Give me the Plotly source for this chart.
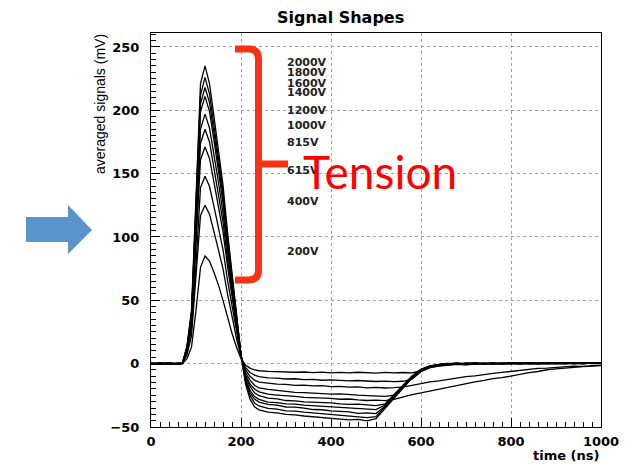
import plotly.graph_objects as go

# ---------------- data ----------------
time_ns = [0, 20, 40, 60, 70, 80, 90, 100, 110, 120, 130, 140, 150, 160, 170, 180, 190, 200, 210, 220, 230, 240,
           260, 280, 300, 320, 340, 360, 380, 400, 420, 440, 460, 480, 500, 520, 540, 560, 580, 600, 620, 640,
           660, 680, 700, 720, 740, 760, 780, 800, 820, 840, 860, 880, 900, 920, 940, 960, 980, 1000]

v2000 = [0.4, -0.6, 0.5, -0.3, 0.8, 14, 42, 125, 221, 235, 221, 195, 170, 141, 104, 70, 37, 7, -16, -28, -34, -36.5,
         -38.2, -38.8, -40.1, -40.4, -41.3, -41.9, -42.8, -43.1, -43.6, -44.3, -44.0, -45.1, -43.4, -35.2, -27.1, -19.4, -11.3, -5.2, -2.4, -1.1,
         -0.3, 0.4, -0.2, 0.5, 0.1, -0.4, 0.6, 0.2, -0.3, 0.5, 0.1, 0.7, 0.2, -0.2, 0.6, 0.3, 0.8, 0.4]
v1800 = [-0.2, 0.5, -0.4, 0.6, 0.3, 13, 40, 120, 212, 226, 213, 188, 163, 136, 100, 68, 36, 7, -14, -25, -31, -33.4,
         -35.3, -35.9, -37.2, -37.4, -38.3, -38.9, -39.6, -40.2, -40.7, -41.3, -41.8, -42.6, -41.9, -34.1, -26.3, -18.6, -10.9, -4.8, -2.1, -0.9,
         0.2, -0.5, 0.3, -0.1, 0.6, 0.0, -0.4, 0.5, 0.2, 0.8, -0.1, 0.4, 0.7, 0.1, 0.5, -0.2, 0.6, 0.3]
v1600 = [0.3, -0.4, 0.2, -0.5, 0.6, 13, 39, 116, 205, 218, 206, 182, 158, 132, 97, 66, 35, 7, -13, -23, -28, -30.3,
         -32.1, -32.8, -34.2, -34.3, -35.1, -36.2, -36.4, -37.3, -37.6, -38.1, -39.2, -38.8, -39.4, -33.6, -25.8, -17.9, -10.2, -4.6, -1.8, -0.7,
         -0.2, 0.5, -0.3, 0.4, 0.1, -0.2, 0.6, 0.3, -0.1, 0.5, 0.2, 0.7, -0.2, 0.4, 0.6, 0.1, 0.5, 0.2]
v1400 = [-0.5, 0.3, 0.6, -0.2, 0.4, 12, 38, 112, 199, 211, 199, 176, 153, 127, 94, 64, 34, 7, -12, -21, -26, -28.2,
         -30.3, -30.7, -31.8, -31.9, -32.7, -33.2, -33.3, -34.1, -34.6, -34.9, -35.7, -35.8, -36.3, -32.7, -25.1, -17.3, -10.1, -4.4, -1.9, -0.6,
         0.3, -0.4, 0.2, 0.6, -0.1, 0.4, 0.1, -0.3, 0.5, 0.3, 0.0, 0.6, 0.2, 0.5, -0.1, 0.4, 0.2, 0.6]
v1200 = [0.2, 0.6, -0.3, 0.4, -0.2, 11, 35, 104, 185, 197, 186, 165, 143, 119, 88, 60, 32, 7, -10, -18, -23, -25.3,
         -27.2, -27.8, -29.1, -29.3, -30.2, -30.4, -31.1, -30.9, -31.7, -32.2, -31.9, -32.6, -33.1, -31.8, -24.7, -17.1, -9.8, -4.5, -1.7, -0.8,
         0.1, -0.3, 0.5, 0.2, -0.2, 0.4, 0.0, 0.6, 0.3, -0.1, 0.5, 0.2, 0.4, 0.7, 0.1, 0.3, 0.5, 0.2]
v1000 = [-0.3, 0.4, 0.1, -0.5, 0.5, 11, 33, 98, 174, 185, 175, 155, 134, 112, 83, 56, 30, 7, -9, -16, -20, -22.2,
         -24.1, -24.8, -25.6, -25.9, -26.6, -26.8, -27.3, -27.4, -28.1, -27.9, -28.6, -29.1, -28.8, -29.2, -28.1, -26.2, -24.4, -23.1, -21.6, -19.8,
         -18.7, -16.9, -15.6, -14.3, -13.2, -11.8, -11.1, -9.7, -8.6, -7.1, -6.2, -4.8, -4.1, -3.3, -2.9, -2.4, -1.8, -1.5]
v815 = [0.5, -0.2, 0.3, 0.1, 0.6, 10, 31, 91, 161, 171, 162, 143, 124, 104, 77, 52, 28, 6, -7, -13, -17, -19.2,
        -20.3, -21.1, -21.8, -22.6, -22.9, -23.2, -23.3, -24.1, -23.8, -24.6, -24.9, -25.2, -25.4, -25.8, -24.9, -18.2, -10.6, -5.1, -2.6, -1.4,
        -0.8, -0.2, 0.3, -0.4, 0.2, 0.5, -0.1, 0.3, 0.6, 0.1, 0.4, -0.2, 0.5, 0.3, 0.1, 0.6, 0.2, 0.4]
v615 = [-0.1, 0.4, -0.4, 0.3, 0.2, 9, 27, 78, 139, 148, 140, 124, 107, 90, 66, 45, 24, 6, -5, -10, -13, -14.6,
        -15.4, -16.2, -16.4, -17.1, -16.9, -17.6, -17.4, -18.1, -17.9, -18.6, -18.4, -19.1, -18.8, -19.2, -18.9, -18.4, -17.1, -15.6, -14.4, -13.6,
        -12.4, -11.6, -10.3, -9.6, -8.4, -7.7, -6.9, -6.1, -4.9, -4.6, -3.8, -3.6, -2.9, -2.6, -1.9, -2.1, -1.4, -1.1]
v400 = [0.3, -0.5, 0.2, -0.1, 0.4, 7, 22, 66, 117, 125, 118, 104, 90, 75, 55, 37, 20, 5, -3, -7, -9, -10.3,
        -11.2, -11.4, -12.1, -11.9, -12.6, -12.4, -13.1, -12.8, -13.2, -13.6, -13.3, -13.7, -14.1, -13.8, -14.2, -13.9, -12.2, -6.4, -3.2, -1.9,
        -1.3, -0.6, -0.9, -0.2, 0.3, -0.4, 0.1, 0.4, -0.2, 0.3, 0.0, 0.5, 0.2, -0.1, 0.4, 0.1, 0.5, 0.3]
v200 = [-0.4, 0.2, 0.5, -0.3, 0.1, 4, 13, 42, 76, 85, 81, 72, 62, 50, 36, 24, 13, 4, -1, -3.5, -5, -5.6,
        -6.1, -6.4, -6.3, -6.8, -6.6, -7.1, -6.7, -7.2, -6.9, -7.3, -6.8, -7.1, -7.4, -6.9, -7.3, -7.0, -7.2, -5.6, -3.1, -1.6,
        -0.9, -0.4, -0.7, 0.1, -0.3, 0.4, -0.2, 0.2, 0.5, -0.1, 0.3, 0.1, -0.2, 0.4, 0.2, 0.6, 0.1, 0.3]

voltage_labels = ["2000V", "1800V", "1600V", "1400V", "1200V", "1000V", "815V", "615V", "400V", "200V"]
series = [v2000, v1800, v1600, v1400, v1200, v1000, v815, v615, v400, v200]

# ---------------- figure ----------------
W, H = 632, 464
ML, MR, MT, MB = 151, 31, 33, 37
PW, PH = W - ML - MR, H - MT - MB


def px(x):
    return (x - ML) / PW


def py(y):
    return (H - MB - y) / PH


fig = go.Figure()
for name, vals in zip(voltage_labels, series):
    fig.add_trace(go.Scatter(x=time_ns, y=vals, mode="lines", name=name,
                             line=dict(color="black", width=1.3)))

bold = dict(family="DejaVu Sans", size=13, color="black", weight="bold")

axis_common = dict(
    showline=True, linecolor="black", linewidth=1, mirror=True,
    ticks="inside", ticklen=9, tickcolor="black", tickwidth=1,
    showgrid=True, gridcolor="#a0a0a0", griddash="dot", gridwidth=1,
    zeroline=False, tickfont=bold,
)

fig.update_xaxes(range=[0, 1000], tick0=0, dtick=200,
                 minor=dict(dtick=20, ticks="inside", ticklen=5, tickcolor="black", showgrid=False),
                 ticklabelstandoff=2, **axis_common)
fig.update_yaxes(range=[-50, 261], tick0=0, dtick=50,
                 minor=dict(dtick=5, ticks="inside", ticklen=5, tickcolor="black", showgrid=False),
                 ticklabelstandoff=8, **axis_common)

annotations = []
annotations.append(dict(text="Signal Shapes", xref="paper", yref="paper", x=px(340), y=py(17),
                        xanchor="center", yanchor="middle", showarrow=False,
                        font=dict(family="DejaVu Sans", size=16, color="black", weight="bold")))
annotations.append(dict(text="time (ns)", xref="paper", yref="paper", x=px(601), y=py(455),
                        xanchor="right", yanchor="middle", showarrow=False,
                        font=dict(family="DejaVu Sans", size=13, color="black", weight="bold")))
annotations.append(dict(text="averaged signals (mV)", xref="paper", yref="paper", x=px(100), y=py(32),
                        xanchor="center", yanchor="top", textangle=-90, showarrow=False,
                        font=dict(family="Liberation Sans", size=14, color="black")))
label_y = [237.7, 229.8, 220.8, 214.3, 199.7, 187.6, 174.4, 152.1, 128.3, 88.2]
for txt, yv in zip(voltage_labels, label_y):
    annotations.append(dict(text=txt, xref="x", yref="y", x=297, y=yv, xanchor="left", yanchor="middle",
                            showarrow=False,
                            font=dict(family="DejaVu Sans", size=11, color="#222222", weight="bold")))
annotations.append(dict(text="Tension", xref="paper", yref="paper", x=px(301), y=py(171),
                        xanchor="left", yanchor="middle", showarrow=False,
                        font=dict(family="Lato", size=46, color="#ff0000")))

shapes = []
red = "#fa3214"
brace = (f"M {px(235)},{py(49)} L {px(249)},{py(49)} Q {px(258.5)},{py(49)} {px(258.5)},{py(59)} "
         f"L {px(258.5)},{py(270)} Q {px(258.5)},{py(280)} {px(249)},{py(280)} L {px(235)},{py(280)}")
shapes.append(dict(type="path", xref="paper", yref="paper", path=brace,
                   line=dict(color=red, width=7)))
shapes.append(dict(type="path", xref="paper", yref="paper",
                   path=f"M {px(258.5)},{py(164)} L {px(288)},{py(164)}",
                   line=dict(color=red, width=7)))
arrow = (f"M {px(26)},{py(217)} L {px(68)},{py(217)} L {px(68)},{py(205)} L {px(92)},{py(230)} "
         f"L {px(68)},{py(254)} L {px(68)},{py(242)} L {px(26)},{py(242)} Z")
shapes.append(dict(type="path", xref="paper", yref="paper", path=arrow,
                   fillcolor="#5b93cb", line=dict(width=0)))

fig.update_layout(width=W, height=H, margin=dict(l=ML, r=MR, t=MT, b=MB),
                  paper_bgcolor="white", plot_bgcolor="white", showlegend=False,
                  annotations=annotations, shapes=shapes)

fig.write_html("out.html", config={"displayModeBar": False},
               post_script="document.body.style.margin='0px';document.body.style.padding='0px';")
